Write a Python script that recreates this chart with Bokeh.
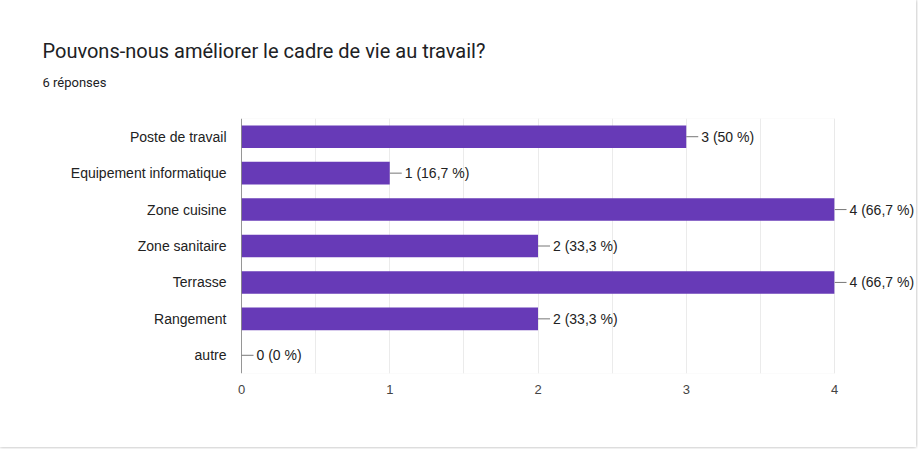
from bokeh.plotting import figure
from bokeh.models import (FactorRange, Range1d, ColumnDataSource, LabelSet, Title,
                          FixedTicker, Span, BoxAnnotation)
from bokeh.core.properties import value
from bokeh.embed import file_html
from bokeh.resources import INLINE

categories = ["Poste de travail", "Equipement informatique", "Zone cuisine",
              "Zone sanitaire", "Terrasse", "Rangement", "autre"]
counts = [3, 1, 4, 2, 4, 2, 0]
labels = ["3 (50 %)", "1 (16,7 %)", "4 (66,7 %)", "2 (33,3 %)",
          "4 (66,7 %)", "2 (33,3 %)", "0 (0 %)"]
x_ticks = [0, 1, 2, 3, 4]
x_max = 4
title_text = "Pouvons-nous améliorer le cadre de vie au travail?"
subtitle_text = "6 réponses"

src = ColumnDataSource(dict(cat=categories, val=counts, lab=labels))

W, H = 916, 447
left, right_px = 241, 834
unit = (right_px - left) / x_max
p = figure(width=W, height=H, output_backend="svg", toolbar_location=None,
           y_range=FactorRange(*reversed(categories)),
           x_range=Range1d(0, (W - left) / unit),
           min_border_left=left, min_border_right=0, min_border_bottom=H - 373,
           min_border_top=118)
p.background_fill_color = "white"
p.border_fill_color = "white"
p.outline_line_color = None

sub = Title(text=subtitle_text, align="left", offset=-199, text_font="Roboto",
            text_font_size="13px", text_font_style="normal", text_color="#202124",
            standoff=57)
p.add_layout(sub, "above")
ttl = Title(text=title_text, align="left", offset=-199, text_font="Roboto",
            text_font_size="20px", text_font_style="normal", text_color="#202124",
            standoff=-36)
p.add_layout(ttl, "above")

p.add_layout(BoxAnnotation(left=0, right=x_max, fill_color=None,
                           line_color="#e6e6e6", line_width=1))

p.hbar(y="cat", right="val", left=0, height=0.62, source=src,
       fill_color="#673ab7", line_color=None)
p.ray(x="val", y="cat", length=12, length_units="screen", angle=0,
      line_color="#777777", line_width=1, source=src)
p.add_layout(LabelSet(x="val", y="cat", text="lab", source=src, x_offset=15,
                      text_baseline="middle", text_align="left",
                      text_font=value("Liberation Sans"), text_font_size=value("14px"),
                      text_color="#222222"))

p.add_layout(Span(location=0, dimension="height", line_color="#333333", line_width=1))

p.xaxis.ticker = FixedTicker(ticks=x_ticks, minor_ticks=[0.5, 1.5, 2.5, 3.5])
p.xaxis.axis_line_color = None
p.xaxis.major_tick_line_color = None
p.xaxis.minor_tick_line_color = None
p.xaxis.major_label_text_font = "Liberation Sans"
p.xaxis.major_label_text_font_size = "13px"
p.xaxis.major_label_text_color = "#444444"
p.xaxis.major_label_standoff = 5

p.yaxis.axis_line_color = None
p.yaxis.major_tick_line_color = None
p.yaxis.minor_tick_line_color = None
p.yaxis.major_label_text_font = "Liberation Sans"
p.yaxis.major_label_text_font_size = "14px"
p.yaxis.major_label_text_color = "#222222"
p.yaxis.major_label_standoff = 9

p.xgrid.grid_line_color = "#ebebeb"
p.xgrid.minor_grid_line_color = "#ebebeb"
p.ygrid.grid_line_color = None

p.styles = {"box-shadow": "0 0 3px rgba(0,0,0,0.35)"}

open("out.html", "w").write(file_html(p, INLINE))
